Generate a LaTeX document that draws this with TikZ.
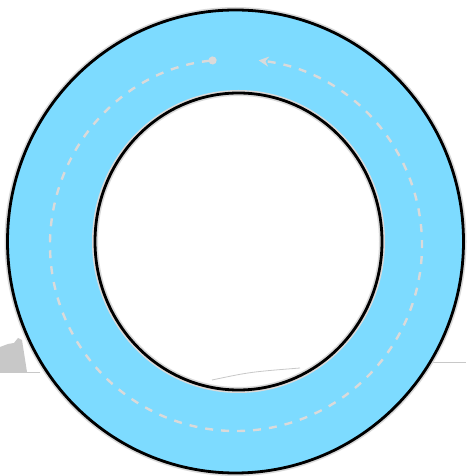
\documentclass[tikz,border=0pt]{standalone}
\usepackage{xcolor}
\usetikzlibrary{arrows.meta}
\definecolor{ringblue}{RGB}{125,219,255}
\definecolor{haze}{RGB}{200,200,200}
\definecolor{pathgrey}{RGB}{218,218,218}

\begin{document}
\begin{tikzpicture}[
			x=1pt, y=1pt, line width=0.6pt,
			rim/.style={draw=black,line width=2.8pt}, % black ring edge
			halo/.style={draw=haze!70,line width=6pt}, % soft grey rim shadow
			lane/.style={draw=pathgrey,line width=2.4pt,dash pattern=on 8pt off 8pt}, % dashed track
			ground/.style={draw=haze,line width=0.8pt},
		]
		\useasboundingbox (0,0) rectangle (466,476);
		% --- centres of the circles
		\coordinate (outer) at (235.5,234.5);
		\coordinate (inner) at (238.5,234.5);
		\coordinate (track) at (236,231);

		% --- faint background scene
		\fill[haze] (0,104) -- (0,129) -- (8,132) -- (14,133) -- (18,138) -- (22,136) -- (27,104) -- cycle;
		\draw[ground] (0,104) -- (40,104);
		\draw[ground] (430,114) -- (466,114);

		% --- the ring
		\draw[halo] (outer) ellipse[x radius=228,y radius=231.5];
		\fill[ringblue] (outer) ellipse[x radius=228,y radius=231.5];
		\draw[halo,fill=white] (inner) ellipse[x radius=143.5,y radius=148.5];
		\draw[haze,line width=0.8pt] (212,96) .. controls (250,104) .. (300,108);
		\draw[rim] (outer) ellipse[x radius=228,y radius=231.5];
		\draw[rim] (inner) ellipse[x radius=143.5,y radius=148.5];

		% --- dashed track with its two ends
		\draw[lane,{Circle[length=8pt]}-{Stealth[length=10pt,width=10pt]}]
		(track) ++(96:186) arc[start angle=96,end angle=443,radius=186];
	\end{tikzpicture}
\end{document}
